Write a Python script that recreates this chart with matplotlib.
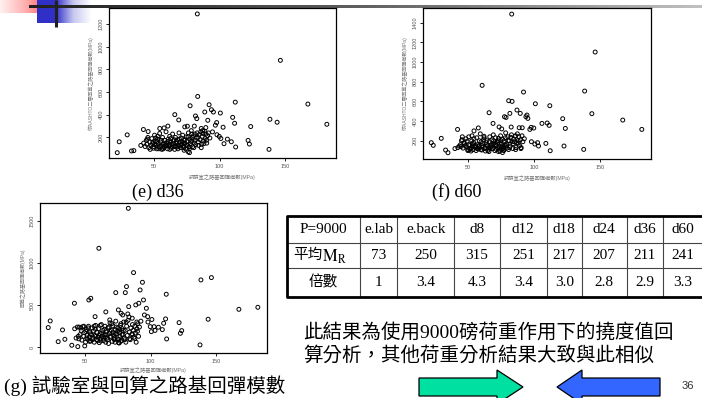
import numpy as np
import matplotlib
matplotlib.use("Agg")
import matplotlib.pyplot as plt
from matplotlib.patches import Polygon
from matplotlib.colors import LinearSegmentedColormap

plt.rcParams['mathtext.fontset'] = 'stix'

# lab resilient modulus (MPa) and back-calculated modulus for d36, d60 and (g)
lab_mr = [83.0, 146.5, 167.5, 182.0, 137.8, 144.0, 138.5, 112.0, 111.5, 110.0,
          112.3, 123.8, 121.8, 122.8, 106.0, 109.0, 103.4, 102.7, 101.0, 100.6,
          99.8, 98.0, 97.8, 96.8, 95.3, 94.6, 93.8, 92.0, 91.0, 89.5,
          88.7, 87.0, 86.0, 83.3, 82.6, 81.6, 80.7, 78.7, 77.5, 75.4,
          73.4, 68.8, 65.8, 60.5, 57.6, 54.3, 52.8, 49.7, 45.4, 44.4,
          41.8, 39.8, 34.5, 32.7, 29.4, 23.3, 21.8, 76.0, 72.9, 77.0,
          42.0, 43.1, 44.0, 45.2, 46.0, 46.8, 47.5, 48.2, 48.9, 49.6,
          50.3, 50.9, 51.5, 52.0, 52.6, 53.1, 53.7, 54.2, 54.8, 55.3,
          55.9, 56.4, 57.0, 57.5, 58.0, 58.6, 59.1, 59.7, 60.2, 60.8,
          61.3, 61.9, 62.4, 63.0, 63.5, 64.1, 64.6, 65.2, 65.7, 66.3,
          66.8, 67.4, 67.9, 68.5, 69.0, 69.6, 70.1, 70.7, 71.2, 71.8,
          72.3, 72.9, 73.4, 74.0, 74.5, 75.1, 75.6, 76.2, 76.7, 77.3,
          77.8, 78.4, 78.9, 79.5, 80.0, 80.6, 81.1, 81.7, 82.2, 82.8,
          83.9, 84.5, 85.0, 85.6, 86.2, 86.7, 87.3, 87.9, 88.4, 89.0,
          89.6, 90.2, 90.8, 91.5, 92.6, 50.5, 52.3, 54.0, 55.5, 56.9,
          58.3, 59.5, 60.5, 61.6, 62.7, 63.8, 64.9, 66.0, 67.1, 68.2,
          69.3, 70.4, 71.5, 72.6, 73.7, 74.8, 75.9, 77.0, 78.1, 79.2,
          80.3, 81.4, 57.8, 62.0, 65.4, 68.8, 73.0, 76.5, 44.8, 47.0,
          49.0, 51.2, 53.5, 83.5, 84.0, 86.0, 88.0, 90.0]

mr_d36 = [1288, 879, 494, 316, 95, 334, 360, 511, 325, 377,
          116, 296, 174, 142, 185, 162, 145, 290, 191, 415,
          209, 224, 331, 308, 424, 249, 444, 488, 351, 287,
          424, 260, 279, 561, 366, 389, 300, 230, 479, 299,
          293, 354, 401, 300, 284, 279, 210, 120, 252, 140,
          270, 130, 84, 81, 223, 162, 66, 74, 87, 66,
          150, 120, 175, 200, 110, 160, 130, 190, 145, 105,
          220, 170, 130, 100, 185, 145, 115, 235, 160, 125,
          95, 200, 140, 110, 175, 130, 250, 150, 100, 185,
          125, 210, 160, 105, 135, 230, 170, 120, 95, 200,
          150, 115, 180, 135, 240, 160, 110, 195, 140, 220,
          125, 175, 150, 100, 205, 165, 130, 240, 115, 185,
          145, 260, 170, 120, 215, 150, 230, 135, 195, 240,
          160, 225, 180, 250, 140, 210, 235, 170, 255, 190,
          230, 150, 215, 240, 195, 140, 165, 120, 175, 100,
          150, 125, 165, 140, 190, 115, 145, 125, 165, 100,
          185, 135, 160, 110, 180, 135, 205, 100, 165, 200,
          110, 175, 120, 95, 180, 120, 145, 120, 185, 95,
          160, 195, 100, 200, 130, 110, 145, 175]

mr_d60 = [1488, 1102, 410, 315, 112, 475, 705, 556, 356, 380,
          98, 325, 424, 146, 376, 173, 146, 180, 576, 166,
          329, 190, 336, 315, 427, 461, 444, 695, 332, 478,
          332, 512, 250, 600, 339, 478, 607, 437, 444, 320,
          340, 376, 485, 763, 330, 300, 250, 110, 240, 140,
          315, 120, 78, 105, 224, 153, 180, 80, 90, 100,
          130, 145, 160, 210, 125, 180, 150, 220, 135, 100,
          240, 150, 120, 95, 200, 170, 110, 220, 145, 130,
          100, 230, 160, 115, 150, 125, 270, 190, 105, 170,
          140, 245, 120, 95, 180, 200, 150, 115, 90, 240,
          130, 160, 210, 120, 260, 175, 100, 230, 150, 190,
          130, 200, 115, 95, 250, 170, 140, 215, 105, 190,
          160, 280, 150, 125, 240, 110, 200, 145, 235, 260,
          120, 215, 190, 245, 130, 180, 270, 200, 240, 150,
          210, 130, 250, 190, 220, 160, 130, 180, 150, 120,
          200, 110, 150, 210, 130, 160, 100, 190, 140, 120,
          200, 160, 110, 180, 135, 200, 150, 130, 230, 170,
          200, 130, 140, 230, 130, 160, 225, 120, 200, 170,
          195, 110, 150, 190, 170, 110, 175, 120]

mr_g = [1651, 828, 451, 475, 28, 333, 800, 630, 337, 285,
        99, 198, 293, 166, 238, 210, 200, 245, 330, 186,
        245, 300, 364, 463, 384, 562, 772, 681, 523, 300,
        503, 887, 345, 483, 396, 721, 649, 384, 404, 444,
        649, 325, 420, 1176, 364, 582, 562, 16, 240, 8,
        523, 24, 95, 206, 67, 313, 234, 50, 60, 70,
        220, 110, 240, 100, 150, 230, 85, 245, 130, 175,
        60, 210, 140, 95, 250, 120, 180, 75, 150, 230,
        110, 195, 60, 140, 260, 90, 175, 120, 220, 55,
        160, 100, 270, 130, 200, 80, 145, 250, 60, 185,
        110, 230, 45, 165, 290, 120, 200, 70, 255, 140,
        90, 210, 310, 160, 100, 230, 55, 180, 130, 280,
        80, 220, 150, 300, 110, 200, 60, 250, 140, 320,
        180, 90, 230, 150, 270, 200, 120, 250, 170, 60,
        220, 280, 130, 240, 310, 190, 230, 160, 90, 250,
        130, 80, 140, 260, 170, 110, 215, 150, 90, 240,
        130, 280, 175, 110, 240, 190, 95, 260, 150, 200,
        90, 300, 215, 75, 120, 190, 160, 210, 130, 200,
        250, 110, 70, 360, 100, 160, 105, 190]

# table
col_heads = ['P=9000', 'e.lab', 'e.back', 'd8', 'd12', 'd18', 'd24', 'd36', 'd60']
mean_mr = ['73', '250', '315', '251', '217', '207', '211', '241']
ratio = ['1', '3.4', '4.3', '3.4', '3.0', '2.8', '2.9', '3.3']

W, H = 702, 398
fig = plt.figure(figsize=(W / 100, H / 100), dpi=100)

# background layer in pixel coordinates
bg = fig.add_axes([0, 0, 1, 1], zorder=0)
bg.set_xlim(0, W)
bg.set_ylim(H, 0)
bg.axis('off')

# header decoration
red_cmap = LinearSegmentedColormap.from_list('r', ['#fff0f0', '#ffb0b0', '#ff5a5a'])
bg.imshow(np.linspace(0, 1, 50)[None, :], cmap=red_cmap, extent=(0, 50, 13, 0), aspect='auto')
blue_cmap = LinearSegmentedColormap.from_list('b', ['#3030c8', '#3030c8', '#c8c8f0', '#ffffff'])
bg.imshow(np.linspace(0, 1, 60)[None, :], cmap=blue_cmap, extent=(37, 92, 23, 0), aspect='auto')
line_cmap = LinearSegmentedColormap.from_list('g', ['#202020', '#606060', '#c0c0c0'])
bg.imshow(np.linspace(0, 1, 200)[None, :], cmap=line_cmap, extent=(29, 702, 8.5, 5.5), aspect='auto')
bg.plot([55.5, 55.5], [0, 27], color='#202020', lw=2.2, solid_capstyle='butt')
bg.set_xlim(0, W)
bg.set_ylim(H, 0)

sans = ['Liberation Sans', 'Noto Sans CJK TC']
serif = ['Liberation Serif', 'Noto Sans CJK TC']


def scatter_panel(rect, y, ylim, yticks, ylabel, xpad=4):
    ax = fig.add_axes(rect, zorder=2)
    ax.scatter(lab_mr, y, s=8, facecolors='none', edgecolors='black', linewidths=0.7)
    ax.set_xlim(15.5, 189)
    ax.set_ylim(*ylim)
    ax.set_xticks([50, 100, 150])
    ax.set_yticks(yticks)
    ax.tick_params(length=2.5, width=0.6, pad=1.5, labelsize=4, labelcolor='#555555')
    for lab in ax.get_yticklabels():
        lab.set_rotation(90)
        lab.set_va('center')
    for lab in ax.get_xticklabels() + ax.get_yticklabels():
        lab.set_family(sans)
    for sp in ax.spines.values():
        sp.set_linewidth(0.9)
    ax.set_xlabel('試驗室之路基回彈模數(MPa)', fontsize=3.8, color='#777777',
                  family=sans, labelpad=xpad)
    ax.set_ylabel(ylabel, fontsize=3.6, color='#777777', family=sans, labelpad=3)
    return ax


scatter_panel([109 / W, 1 - 158 / H, 227 / W, 150 / H], mr_d36, (19, 1340),
              [200, 400, 600, 800, 1000, 1200], '依AASHTO二層回算之路基回彈模數(MPa)')
scatter_panel([423 / W, 1 - 159 / H, 228 / W, 151 / H], mr_d60, (14, 1550),
              [200, 400, 600, 800, 1000, 1200, 1400], '依AASHTO二層回算之路基回彈模數(MPa)')
scatter_panel([40 / W, 1 - 353 / H, 227 / W, 150 / H], mr_g, (-68, 1714),
              [0, 500, 1000, 1500], '回算之路基回彈模數(MPa)', xpad=2.5)

# captions
bg.text(158, 192, '(e) d36', fontsize=13, family=serif, ha='center', va='center')
bg.text(457, 192, '(f) d60', fontsize=13, family=serif, ha='center', va='center')
bg.text(4, 386, '(g) 試驗室與回算之路基回彈模數', fontsize=14, family=serif,
        ha='left', va='center')

# table
col_x = [287.3, 360, 397.3, 454, 500, 546.7, 581.7, 626.7, 663.3, 703]
row_y = [216, 243.3, 268.3, 296.7]
for x in col_x[1:-1]:
    bg.plot([x, x], [row_y[0], row_y[-1]], color='#444444', lw=0.8)
for yy in row_y[1:-1]:
    bg.plot([col_x[0], col_x[-1]], [yy, yy], color='#444444', lw=0.8)
bg.plot([col_x[-1], col_x[0], col_x[0], col_x[-1]],
        [row_y[0], row_y[0], row_y[-1], row_y[-1]], color='black', lw=2)

centers_x = [(col_x[i] + col_x[i + 1]) / 2 for i in range(9)]
centers_y = [(row_y[i] + row_y[i + 1]) / 2 for i in range(3)]
for i, t in enumerate(col_heads):
    bg.text(centers_x[i], centers_y[0], t, fontsize=11, family=serif, ha='center', va='center')
bg.text(322, centers_y[1], '平均', fontsize=10.5, family=serif, ha='right', va='center')
bg.text(322, centers_y[1] + 1, r'$\mathrm{M_R}$', fontsize=12, ha='left', va='center')
for i, t in enumerate(mean_mr):
    bg.text(centers_x[i + 1], centers_y[1], t, fontsize=11, family=serif, ha='center', va='center')
bg.text(centers_x[0], centers_y[2], '倍數', fontsize=10.5, family=serif, ha='center', va='center')
for i, t in enumerate(ratio):
    bg.text(centers_x[i + 1], centers_y[2], t, fontsize=11, family=serif, ha='center', va='center')

# note
bg.text(303, 332, '此結果為使用9000磅荷重作用下的撓度值回', fontsize=14, family=serif,
        ha='left', va='center')
bg.text(303, 355, '算分析，其他荷重分析結果大致與此相似', fontsize=14, family=serif,
        ha='left', va='center')

# navigation arrows
bg.add_patch(Polygon([(419, 378), (497, 378), (497, 370), (523, 387), (497, 404),
                      (497, 396), (419, 396)], closed=True, facecolor='#00e0a0',
                     edgecolor='black', lw=0.9))
bg.add_patch(Polygon([(660, 378), (582, 378), (582, 370), (557, 387), (582, 404),
                      (582, 396), (660, 396)], closed=True, facecolor='#3366ff',
                     edgecolor='black', lw=0.9))
bg.text(688, 386, '36', fontsize=8, family=sans, color='#333333', ha='center', va='center')

fig.savefig('out.png', dpi=100)
